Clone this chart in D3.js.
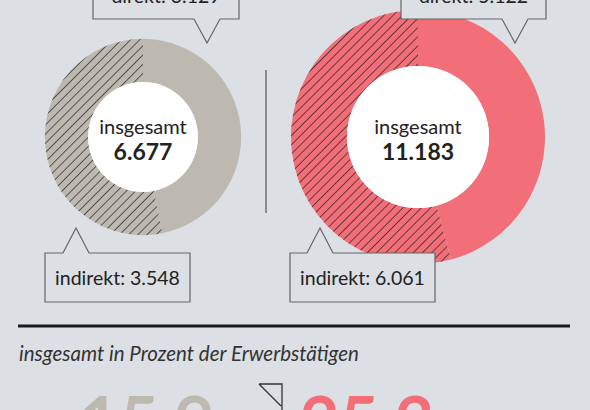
<!DOCTYPE html>
<html><head><meta charset="utf-8">
<script src="https://cdn.jsdelivr.net/npm/d3@7"></script>
<style>
body{margin:0;background:#dcdfe3;}
svg{display:block;font-family:Lato,"Open Sans",sans-serif;}
</style></head>
<body>
<svg id="c" width="590" height="410"></svg>
<script>
// Werte
const groups = ["links", "rechts"];
const direkt = [3129, 5122];
const indirekt = [3548, 6061];
const totalLabels = ["6.677", "11.183"];
const prozent = ["15,9", "25,3"];
const colors = ["#bdb9b0", "#f26f79"];

const svg = d3.select("#c");
const defs = svg.append("defs");
defs.append("pattern").attr("id", "hatch").attr("patternUnits", "userSpaceOnUse")
  .attr("width", 6.5).attr("height", 6.5).attr("patternTransform", "rotate(45)")
  .append("line").attr("x1", 0).attr("y1", 0).attr("x2", 0).attr("y2", 6.5)
  .attr("stroke", "#1a1a1a").attr("stroke-width", 1.3);

// Größe der Ringe nach Gesamtzahl (Fläche)
const rScale = d3.scaleSqrt().domain([0, d3.max(direkt.map((d, i) => d + indirekt[i]))]).range([0, 127]);
const centers = [[143, 137], [418, 137]];

groups.forEach((g, i) => {
  const total = direkt[i] + indirekt[i];
  const R = rScale(total), r = R * 0.56;
  const pie = d3.pie().sort(null).value(d => d.v);
  const arcs = pie([{k: "direkt", v: direkt[i]}, {k: "indirekt", v: indirekt[i]}]);
  const arc = d3.arc().innerRadius(r).outerRadius(R);
  const gg = svg.append("g").attr("transform", `translate(${centers[i]})`);
  gg.selectAll("path.base").data(arcs).join("path").attr("d", arc).attr("fill", colors[i]);
  gg.selectAll("path.h").data(arcs.filter(d => d.data.k == "indirekt")).join("path")
    .attr("d", arc).attr("fill", "url(#hatch)");
  gg.append("circle").attr("r", r).attr("fill", "#fff");
  gg.append("text").attr("text-anchor", "middle").attr("y", -3)
    .attr("font-size", 20).attr("fill", "#222").text("insgesamt");
  gg.append("text").attr("text-anchor", "middle").attr("y", 23)
    .attr("font-size", 23).attr("font-weight", "bold").attr("fill", "#222").text(totalLabels[i]);
});

// Trennlinie
svg.append("line").attr("x1", 266).attr("x2", 266).attr("y1", 70).attr("y2", 213)
  .attr("stroke", "#555").attr("stroke-width", 1.2);

// Callouts
function callout(x, y, w, h, tip, top, text) {
  const [tx, ty] = tip;
  let pts;
  if (top) {
    pts = [[x, y], [tx - 13, y], [tx, ty], [tx + 13, y], [x + w, y], [x + w, y + h], [x, y + h]];
  } else {
    pts = [[x, y + h], [tx - 13, y + h], [tx, ty], [tx + 13, y + h], [x + w, y + h], [x + w, y], [x, y]];
  }
  svg.append("path").attr("d", d3.line()(pts) + "Z")
    .attr("fill", "#dcdfe3").attr("stroke", "#666").attr("stroke-width", 1.2);
  svg.append("text").attr("x", x + w / 2).attr("y", top ? y + 32 : y + h - 16)
    .attr("text-anchor", "middle").attr("font-size", 19.5).attr("fill", "#222").text(text);
}
const fmt = d3.formatLocale({decimal: ",", thousands: ".", grouping: [3], currency: ["", ""]}).format(",");
callout(93, -30, 146, 49, [207, 43], false, "direkt: " + fmt(direkt[0]));
callout(401, -30, 145, 49, [515, 43], false, "direkt: " + fmt(direkt[1]));
callout(45, 253, 145, 49, [76, 228], true, "indirekt: " + fmt(indirekt[0]));
callout(290, 253, 145, 49, [320, 228], true, "indirekt: " + fmt(indirekt[1]));

// untere Sektion
svg.append("line").attr("x1", 18).attr("x2", 570).attr("y1", 326).attr("y2", 326)
  .attr("stroke", "#1a1a1a").attr("stroke-width", 3);
svg.append("text").attr("x", 19).attr("y", 361).attr("font-size", 20.5).attr("font-style", "italic")
  .attr("fill", "#333").text("insgesamt in Prozent der Erwerbstätigen");
svg.append("text").attr("x", 80).attr("y", 446).attr("font-size", 68).attr("font-weight", "bold")
  .attr("fill", colors[0]).text(prozent[0]);
svg.append("text").attr("x", 300).attr("y", 446).attr("font-size", 68).attr("font-weight", "bold")
  .attr("fill", colors[1]).text(prozent[1]);
svg.append("path").attr("d", "M259,384 H282 V410 M259,384 L281,406")
  .attr("fill", "none").attr("stroke", "#333").attr("stroke-width", 1.3);
</script>
</body></html>
